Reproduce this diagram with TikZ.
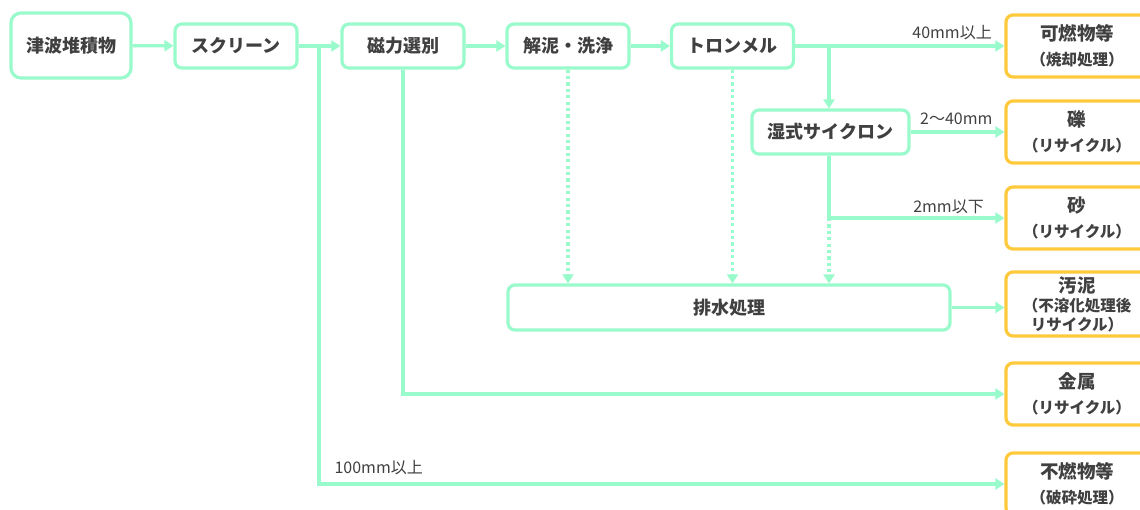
\documentclass[tikz,border=0pt]{standalone}
\usepackage{fontspec}
\setmainfont{Noto Sans CJK JP}
\usetikzlibrary{arrows.meta}
\usepackage{xcolor}
\definecolor{cmint}{HTML}{99FACB}
\definecolor{cgold}{HTML}{FFC93C}
\definecolor{ctext}{HTML}{404040}
\newcommand\outsub[1]{{\fontsize{15.5}{25}\selectfont #1}}

\begin{document}
\begin{tikzpicture}[x=1pt, y=-1pt,
  st/.style = {rectangle, rounded corners=7pt, line width=3.2pt,
               minimum width=122pt, minimum height=44pt, inner sep=0pt,
               font=\fontsize{18}{20}\selectfont\bfseries,
               draw=cmint, fill=white, text=ctext},
  res/.style = {st, draw=cgold, minimum width=142pt, minimum height=62pt,
                align=center, font=\fontsize{18.5}{25}\selectfont\bfseries},
  arr/.style = {-{Triangle[length=9pt,width=11pt]}, line width=3.2pt, color=cmint},
  drain/.style = {arr, line width=3.2pt, dash pattern=on 3.2pt off 3.2pt},
  lbl/.style = {inner sep=0pt, text=ctext, font=\fontsize{16}{18}\selectfont}
]
\useasboundingbox (0,0) rectangle (1140,509);
\clip (0,0) rectangle (1140,509);

% process
\node[st, minimum width=120pt, minimum height=65pt, rounded corners=10pt] (tsu) at (71,45.5) {津波堆積物};
\node[st] (scr) at (236,46) {スクリーン};
\node[st] (jir) at (403,46) {磁力選別};
\node[st] (kai) at (568,46) {解泥・洗浄};
\node[st] (tro) at (732.5,46) {トロンメル};
\node[st, minimum width=157pt] (cyc) at (830.5,132) {湿式サイクロン};
\node[st, minimum width=442pt, minimum height=45pt] (hai) at (729,307.5) {排水処理};

% products
\node[res] (kanen) at (1077,46)  {可燃物等\\\outsub{（焼却処理）}};
\node[res] (reki)  at (1077,132) {礫\\\outsub{（リサイクル）}};
\node[res] (suna)  at (1077,218) {砂\\\outsub{（リサイクル）}};
\node[res, minimum height=64pt, font=\fontsize{18.5}{19}\selectfont\bfseries]
           (odei)  at (1077,304) {汚泥\\\outsub{（不溶化処理後}\\\outsub{リサイクル）}};
\node[res] (kinz)  at (1077,394) {金属\\\outsub{（リサイクル）}};
\node[res] (funen) at (1077,484) {不燃物等\\\outsub{（破砕処理）}};

\coordinate (b1) at (319,46);
\coordinate (b2) at (829,46);
\coordinate (b3) at (829,218);

\draw[arr] (tsu) -- (scr);
\draw[arr] (scr) -- (jir);
\draw[arr] (jir) -- (kai);
\draw[arr] (kai) -- (tro);
\draw[arr] (tro) -- node[lbl, pos=1, anchor=base east, xshift=-11pt, yshift=8pt] (l40) {40mm以上} (kanen);
\draw[arr] (b2) -- (b2 |- cyc.north);
\draw[arr] (cyc) -- node[lbl, pos=0, anchor=base west, xshift=8pt, yshift=8pt] (l2to40) {2～40mm} (reki);
\draw[line width=3.2pt, cmint] (cyc.south -| b2) -- (b3);
\draw[arr] (b3) -- node[lbl, pos=1, anchor=base east, xshift=-19pt, yshift=6pt] (l2) {2mm以下} (b3 -| suna.west);
\draw[drain] (kai.south) -- (kai.south |- hai.north);
\draw[drain] (tro.south) -- (tro.south |- hai.north);
\draw[drain] (b3) -- (b3 |- hai.north);
\draw[arr] (hai.east) -- (hai.east -| odei.west);
\draw[arr] (jir.south) |- (kinz);
\draw[arr] (b1) |- node[lbl, pos=0.5, anchor=base west, xshift=14pt, yshift=11pt] (l100) {100mm以上} (funen);
\end{tikzpicture}
\end{document}
